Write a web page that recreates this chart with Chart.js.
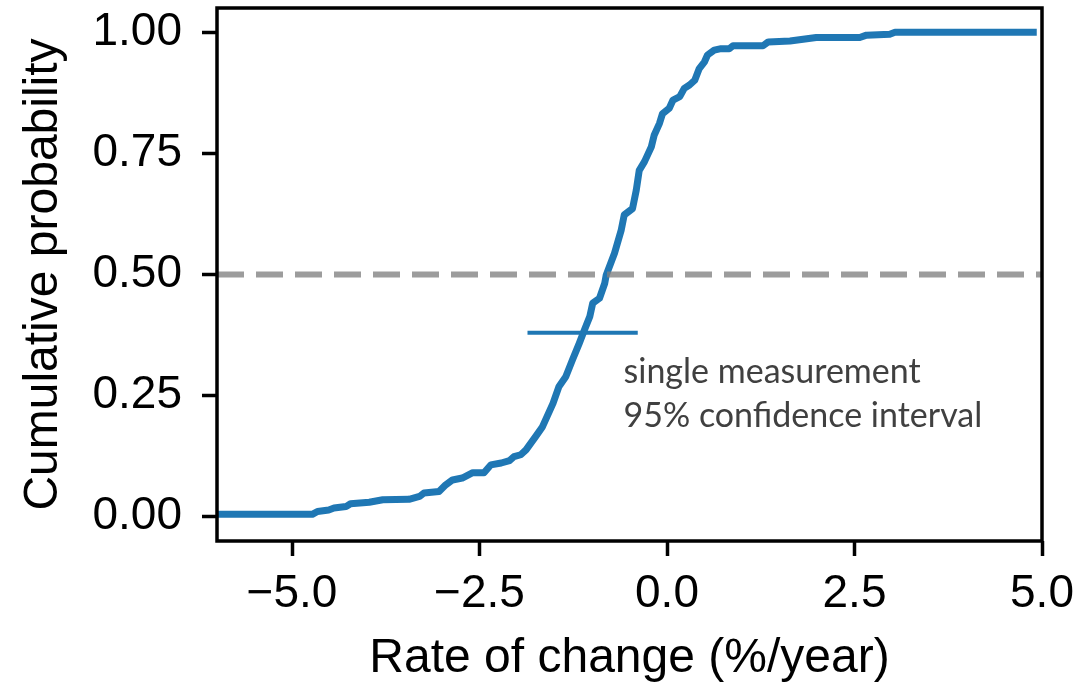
<!DOCTYPE html>
<html><head><meta charset="utf-8">
<script src="https://cdn.jsdelivr.net/npm/chart.js@4.4.1/dist/chart.umd.min.js"></script>
<style>html,body{margin:0;padding:0;background:#fff;}</style>
</head><body>
<canvas id="c" width="1081" height="686"></canvas>
<script>
// ---- data ----
const rateValues = [-6, -4.73, -4.66, -4.51, -4.44, -4.28, -4.22, -3.97, -3.79, -3.44, -3.30, -3.24, -3.04, -2.95, -2.86, -2.73, -2.59, -2.44, -2.35, -2.21, -2.10, -2.04, -1.95, -1.88, -1.75, -1.66, -1.52, -1.44, -1.35, -1.26, -1.17, -1.10, -1.03, -0.99, -0.90, -0.83, -0.81, -0.70, -0.61, -0.57, -0.46, -0.41, -0.37, -0.30, -0.21, -0.17, -0.10, -0.06, 0.03, 0.08, 0.17, 0.23, 0.30, 0.37, 0.43, 0.50, 0.54, 0.63, 0.72, 0.83, 0.88, 1.28, 1.35, 1.64, 1.99, 2.57, 2.66, 2.97, 3.04, 4.93];
const cumulativeProb = [0.005, 0.005, 0.011, 0.014, 0.018, 0.021, 0.027, 0.030, 0.035, 0.036, 0.042, 0.049, 0.052, 0.066, 0.076, 0.080, 0.091, 0.091, 0.107, 0.111, 0.116, 0.124, 0.128, 0.138, 0.166, 0.186, 0.234, 0.269, 0.289, 0.324, 0.358, 0.386, 0.413, 0.441, 0.451, 0.482, 0.499, 0.544, 0.592, 0.623, 0.636, 0.674, 0.715, 0.733, 0.763, 0.788, 0.812, 0.832, 0.843, 0.860, 0.867, 0.884, 0.891, 0.901, 0.925, 0.939, 0.953, 0.963, 0.966, 0.966, 0.972, 0.972, 0.980, 0.982, 0.989, 0.989, 0.994, 0.996, 1.0, 1.0];
const xTickValues = [-5, -2.5, 0, 2.5, 5];
const yTickValues = [0, 0.25, 0.5, 0.75, 1];
const xRange = [-6, 5];
const yRange = [-0.05, 1.05];
const medianLevel = 0.5;
const intervalLow = -1.86;
const intervalHigh = -0.39;
const intervalLevel = 0.38;
const noteLines = ['single measurement', '95% confidence interval'];
const noteAnchorX = -0.58;
const noteAnchorY = [0.276, 0.186];
const xTitle = 'Rate of change (%/year)';
const yTitle = 'Cumulative probability';

// ---- chart ----
const BLUE = '#1f77b4';
const curve = rateValues.map((x, i) => ({x: x, y: cumulativeProb[i]}));
const medianLine = xRange.map(x => ({x: x, y: medianLevel}));
const intervalLine = [{x: intervalLow, y: intervalLevel}, {x: intervalHigh, y: intervalLevel}];
const fmtMinus = s => s.replace('-', '\u2212');

const framePlugin = {
  id: 'frame',
  afterDatasetsDraw(chart) {
    const ctx = chart.ctx, a = chart.chartArea;
    const xs = chart.scales.x, ys = chart.scales.y;
    ctx.save();
    ctx.fillStyle = '#404040';
    ctx.textAlign = 'left';
    ctx.textBaseline = 'alphabetic';
    ctx.font = '34px Lato';
    noteLines.forEach((t, i) => {
      ctx.fillText(t, xs.getPixelForValue(noteAnchorX), ys.getPixelForValue(noteAnchorY[i]));
    });
    ctx.restore();
    ctx.save();
    ctx.strokeStyle = '#000';
    ctx.lineWidth = 3.5;
    ctx.strokeRect(a.left, a.top, a.right - a.left, a.bottom - a.top);
    ctx.restore();
  }
};

new Chart(document.getElementById('c'), {
  type: 'line',
  data: {
    datasets: [
      {data: medianLine, borderColor: 'rgba(128,128,128,0.78)', borderWidth: 6, borderDash: [27, 12], borderCapStyle: 'butt', pointRadius: 0, order: 0},
      {data: curve, borderColor: BLUE, borderWidth: 7, borderJoinStyle: 'round', borderCapStyle: 'butt', pointRadius: 0, tension: 0, order: 1},
      {data: intervalLine, borderColor: BLUE, borderWidth: 4, borderCapStyle: 'butt', pointRadius: 0, order: 2}
    ]
  },
  options: {
    responsive: false,
    animation: false,
    devicePixelRatio: 1,
    layout: {padding: {top: 8, right: 39, left: 0, bottom: 0}},
    plugins: {legend: {display: false}, tooltip: {enabled: false}},
    scales: {
      x: {
        type: 'linear', min: xRange[0], max: xRange[1],
        afterBuildTicks: s => { s.ticks = xTickValues.map(v => ({value: v})); },
        afterFit: s => { s.height = 145; s.paddingLeft = 0; s.paddingRight = 0; },
        border: {display: false},
        grid: {drawOnChartArea: false, drawTicks: true, tickLength: 15, tickWidth: 3.5, tickColor: '#000'},
        ticks: {autoSkip: false, maxRotation: 0, padding: 11, color: '#000',
          font: {family: 'Liberation Sans', size: 46},
          callback: v => fmtMinus(Number(v).toFixed(1))},
        title: {display: true, text: xTitle, color: '#000', font: {family: 'Liberation Sans', size: 48, lineHeight: 1}, padding: {top: 0, bottom: 3}}
      },
      y: {
        type: 'linear', min: yRange[0], max: yRange[1],
        afterBuildTicks: s => { s.ticks = yTickValues.map(v => ({value: v})); },
        afterFit: s => { s.width = 217; s.paddingTop = 0; s.paddingBottom = 0; },
        border: {display: false},
        grid: {drawOnChartArea: false, drawTicks: true, tickLength: 15, tickWidth: 3.5, tickColor: '#000'},
        ticks: {autoSkip: false, padding: 20, color: '#000',
          font: {family: 'Liberation Sans', size: 46},
          callback: v => fmtMinus(Number(v).toFixed(2))},
        title: {display: true, text: yTitle, color: '#000', font: {family: 'Liberation Sans', size: 48, lineHeight: 1}, padding: {top: 20, bottom: 0}}
      }
    }
  },
  plugins: [framePlugin]
});
</script>
</body></html>
